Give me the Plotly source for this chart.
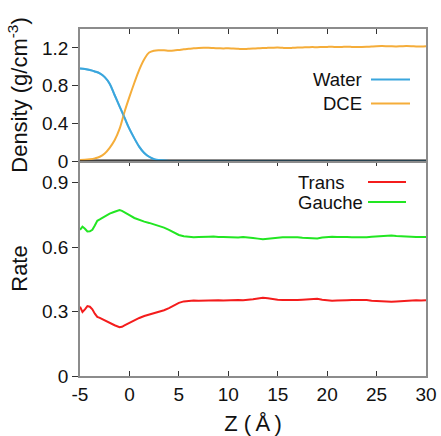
import plotly.graph_objects as go

# ---- data ----
z_density = [-5, -4.5, -4, -3.5, -3, -2.5, -2, -1.5, -1, -0.5, 0, 0.5, 1, 1.5, 2, 2.5, 3, 3.5, 4, 4.5,
             5, 5.5, 6, 6.5, 7, 7.5, 8, 8.5, 9, 9.5, 10, 10.5, 11, 11.5, 12, 12.5, 13, 13.5, 14, 14.5,
             15, 15.5, 16, 16.5, 17, 17.5, 18, 18.5, 19, 19.5, 20, 20.5, 21, 21.5, 22, 22.5, 23, 23.5,
             24, 24.5, 25, 25.5, 26, 26.5, 27, 27.5, 28, 28.5, 29, 29.5, 30]
water = [0.98, 0.975, 0.965, 0.95, 0.93, 0.89, 0.82, 0.70, 0.58, 0.46, 0.34, 0.24, 0.15, 0.085, 0.045,
         0.02, 0.01, 0.004, 0.001, 0.0,
         0.0, 0.0, 0.0, 0.0, 0.0, 0.0, 0.0, 0.0, 0.0, 0.0, 0.0, 0.0, 0.0, 0.0, 0.0, 0.0, 0.0, 0.0, 0.0, 0.0,
         0.0, 0.0, 0.0, 0.0, 0.0, 0.0, 0.0, 0.0, 0.0, 0.0, 0.0, 0.0, 0.0, 0.0, 0.0, 0.0, 0.0, 0.0,
         0.0, 0.0, 0.0, 0.0, 0.0, 0.0, 0.0, 0.0, 0.0, 0.0, 0.0, 0.0, 0.0]
dce = [0.01, 0.012, 0.018, 0.028, 0.045, 0.08, 0.14, 0.22, 0.34, 0.52, 0.68, 0.83, 0.97, 1.08, 1.15,
       1.17, 1.175, 1.175, 1.17, 1.172,
       1.178, 1.185, 1.19, 1.195, 1.198, 1.2, 1.2, 1.198, 1.196, 1.194, 1.195, 1.192, 1.19, 1.188, 1.19, 1.192,
       1.195, 1.198, 1.2, 1.202, 1.203, 1.2, 1.198, 1.2, 1.203, 1.205, 1.206, 1.208, 1.207, 1.209, 1.21, 1.211,
       1.209, 1.21, 1.212, 1.21, 1.208, 1.209, 1.211, 1.214, 1.217, 1.219, 1.218, 1.216, 1.215, 1.217, 1.219,
       1.218, 1.215, 1.214, 1.216]

z_rate = [-5, -4.75, -4.5, -4.25, -4, -3.75, -3.5, -3.25, -3, -2.5, -2, -1.5, -1, -0.75, -0.5, 0, 0.5, 1,
          1.5, 2, 2.5, 3, 3.5, 4, 4.5, 5, 5.5, 6, 6.5, 7, 7.5, 8, 8.5, 9, 9.5, 10, 10.5, 11, 11.5, 12,
          12.5, 13, 13.5, 14, 14.5, 15, 15.5, 16, 16.5, 17, 17.5, 18, 18.5, 19, 19.5, 20, 20.5, 21, 21.5,
          22, 22.5, 23, 23.5, 24, 24.5, 25, 25.5, 26, 26.5, 27, 27.5, 28, 28.5, 29, 29.5, 30]
gauche = [0.68, 0.695, 0.685, 0.672, 0.673, 0.68, 0.70, 0.722, 0.728, 0.742, 0.755, 0.764, 0.772, 0.768,
          0.76, 0.748, 0.735, 0.726, 0.718, 0.712, 0.705, 0.698, 0.69, 0.68, 0.668, 0.656, 0.65, 0.646,
          0.645, 0.647, 0.646, 0.648, 0.649, 0.646, 0.647, 0.645, 0.646, 0.644, 0.646, 0.645, 0.642, 0.639,
          0.636, 0.638, 0.642, 0.643, 0.645, 0.646, 0.644, 0.645, 0.643, 0.642, 0.641, 0.640, 0.644, 0.647,
          0.648, 0.647, 0.648, 0.646, 0.645, 0.644, 0.643, 0.645, 0.648, 0.650, 0.651, 0.652, 0.653, 0.651,
          0.649, 0.647, 0.648, 0.646, 0.647, 0.646]
trans = [0.322, 0.298, 0.31, 0.325, 0.322, 0.31, 0.29, 0.275, 0.27, 0.258, 0.246, 0.236, 0.227, 0.229,
         0.235, 0.247, 0.26, 0.27, 0.279, 0.285, 0.292, 0.298, 0.306, 0.316, 0.328, 0.34, 0.347, 0.35,
         0.351, 0.35, 0.351, 0.349, 0.35, 0.352, 0.351, 0.353, 0.352, 0.354, 0.352, 0.353, 0.357, 0.361,
         0.364, 0.362, 0.357, 0.355, 0.353, 0.352, 0.354, 0.353, 0.355, 0.357, 0.358, 0.359, 0.355, 0.351,
         0.35, 0.351, 0.35, 0.352, 0.353, 0.354, 0.355, 0.353, 0.35, 0.348, 0.347, 0.346, 0.345, 0.347,
         0.349, 0.351, 0.35, 0.352, 0.351, 0.352]

x_ticks = [-5, 0, 5, 10, 15, 20, 25, 30]
x_labels = ["-5", "0", "5", "10", "15", "20", "25", "30"]
density_ticks = [0, 0.4, 0.8, 1.2]
density_labels = ["0", "0.4", "0.8", "1.2"]
rate_ticks = [0, 0.3, 0.6, 0.9]
rate_labels = ["0", "0.3", "0.6", "0.9"]

# ---- styling ----
FONT = "Liberation Sans, Arial, sans-serif"
AX = "#8c8c8c"
TK = "#333333"
C_WATER = "#3aa6dd"
C_DCE = "#f5ad3a"
C_TRANS = "#f41c1c"
C_GAUCHE = "#22e622"

L, R, T, B = 80, 15, 29, 60
W, H = 441, 436
PH = H - T - B
split = 1 - (161 - T) / PH


def px(x):
    return (x - L) / (W - L - R)


def py(y):
    return 1 - (y - T) / PH


fig = go.Figure()
fig.add_trace(go.Scatter(x=z_density, y=water, mode="lines", line=dict(color=C_WATER, width=2, shape="spline"),
                         xaxis="x2", yaxis="y2", showlegend=False))
fig.add_trace(go.Scatter(x=z_density, y=dce, mode="lines", line=dict(color=C_DCE, width=2, shape="spline"),
                         xaxis="x2", yaxis="y2", showlegend=False))
fig.add_trace(go.Scatter(x=z_rate, y=trans, mode="lines", line=dict(color=C_TRANS, width=2),
                         xaxis="x", yaxis="y", showlegend=False))
fig.add_trace(go.Scatter(x=z_rate, y=gauche, mode="lines", line=dict(color=C_GAUCHE, width=2),
                         xaxis="x", yaxis="y", showlegend=False))

tickfont = dict(family=FONT, size=19, color="#111")
common_x = dict(range=[-5, 30], tickvals=x_ticks, ticktext=x_labels, showgrid=False, zeroline=False,
                showline=True, linecolor=AX, linewidth=1.5, ticks="inside", ticklen=5, tickcolor=TK, tickwidth=1,
                automargin=False)

fig.update_layout(
    width=W, height=H, margin=dict(l=L, r=R, t=T, b=B),
    paper_bgcolor="white", plot_bgcolor="white", showlegend=False,
    xaxis=dict(common_x, domain=[0, 1], anchor="y", mirror="ticks", tickfont=tickfont,
               title=dict(text="Z (\u2009Å\u2009)", font=dict(family=FONT, size=22, color="#111"), standoff=17)),
    xaxis2=dict(common_x, domain=[0, 1], anchor="y2", side="top", mirror=True, showticklabels=False),
    yaxis=dict(domain=[0, split], range=[0, 1.0], tickvals=rate_ticks, ticktext=rate_labels,
               showgrid=False, zeroline=False, showline=True, linecolor=AX, linewidth=1.5, mirror=True,
               ticks="outside", ticklen=6, tickcolor=TK, tickfont=tickfont, automargin=False,
               title=dict(text="Rate", font=dict(family=FONT, size=22, color="#111"), standoff=8)),
    yaxis2=dict(domain=[split, 1], range=[0, 1.4], tickvals=density_ticks, ticktext=density_labels,
                showgrid=False, zeroline=False, showline=True, linecolor=AX, linewidth=1.5, mirror=True,
                ticks="outside", ticklen=6, tickcolor=TK, tickfont=tickfont, anchor="x2", automargin=False,
                title=dict(text="Density (g/cm<sup>-3</sup>)", font=dict(family=FONT, size=22, color="#111"),
                           standoff=8)),
    yaxis3=dict(overlaying="y", side="right", anchor="x", range=[0, 1.0], tickvals=rate_ticks[1:],
                showticklabels=False, ticks="inside", ticklen=6, tickcolor=TK, showgrid=False,
                zeroline=False, showline=False, automargin=False),
    yaxis4=dict(overlaying="y2", side="right", anchor="x2", range=[0, 1.4], tickvals=density_ticks[1:],
                showticklabels=False, ticks="inside", ticklen=6, tickcolor=TK, showgrid=False,
                zeroline=False, showline=False, automargin=False),
)

# dark boundary line between panels
fig.add_shape(type="line", xref="x2 domain", yref="y2", x0=0, x1=1, y0=0, y1=0,
              line=dict(color="#222", width=1.5), layer="above")
fig.add_trace(go.Scatter(x=z_density, y=water, mode="lines", line=dict(color=C_WATER, width=2, shape="spline"),
                         xaxis="x2", yaxis="y2", showlegend=False, opacity=0.6, hoverinfo="skip"))

# legends (text left of sample line)
legend_top = [("Water", C_WATER, 79.5), ("DCE", C_DCE, 103.5)]
for name, col, yy in legend_top:
    fig.add_annotation(text=name, xref="paper", yref="paper", x=px(364), y=py(yy), xanchor="right",
                       yanchor="middle", showarrow=False, font=dict(family=FONT, size=18.5, color="#111"))
    fig.add_shape(type="line", xref="paper", yref="paper", x0=px(371), x1=px(410), y0=py(yy), y1=py(yy),
                  line=dict(color=col, width=2))
legend_bot = [("Trans", C_TRANS, 182), ("Gauche", C_GAUCHE, 202)]
for name, col, yy in legend_bot:
    fig.add_annotation(text=name, xref="paper", yref="paper", x=px(296), y=py(yy), xanchor="left",
                       yanchor="middle", showarrow=False, font=dict(family=FONT, size=18.5, color="#111"))
    fig.add_shape(type="line", xref="paper", yref="paper", x0=px(368), x1=px(406), y0=py(yy), y1=py(yy),
                  line=dict(color=col, width=2))

fig.write_html("out.html", config={"displayModeBar": False},
               post_script="document.body.style.margin='0px';")
